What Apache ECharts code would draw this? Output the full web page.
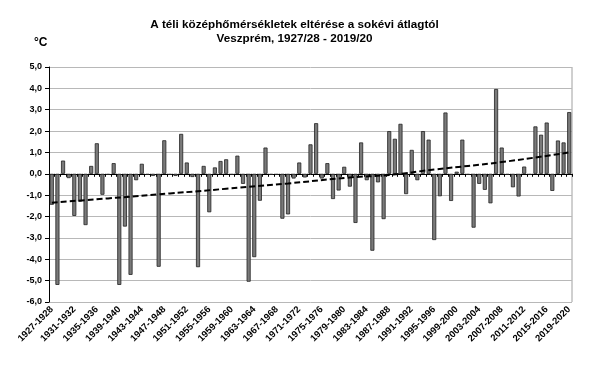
<!DOCTYPE html>
<html>
<head>
<meta charset="utf-8">
<script src="https://cdn.jsdelivr.net/npm/echarts@6/dist/echarts.min.js"></script>
<style>html,body{margin:0;padding:0;background:#fff}#c{width:589px;height:381px}</style>
</head>
<body>
<div id="c"></div>
<script>
// Winters 1927/28 .. 2019/20
var firstYear = 1927;
var lastYear = 2019;
var categories = [];
for (var y = firstYear; y <= lastYear; y++) categories.push(y + '-' + (y + 1));

// deviation from long-term mean (°C)
var deviations = [
  -1.45, -5.2, 0.62, -0.2, -1.97, -1.3, -2.4, 0.37, 1.43, -0.98,
  -0.05, 0.5, -5.2, -2.47, -4.73, -0.3, 0.47, -0.05, -0.1, -4.35,
  1.57, -0.05, -0.1, 1.87, 0.53, -0.15, -4.37, 0.37, -1.8, 0.3,
  0.6, 0.68, -0.05, 0.85, -0.47, -5.05, -3.9, -1.26, 1.23, -0.05,
  -0.05, -2.1, -1.9, -0.22, 0.53, -0.17, 1.38, 2.37, -0.22, 0.5,
  -1.18, -0.78, 0.33, -0.6, -2.3, 1.47, -0.3, -3.6, -0.4, -2.12,
  2.0, 1.64, 2.34, -0.95, 1.12, -0.3, 2.0, 1.6, -3.1, -1.05,
  2.87, -1.27, 0.1, 1.6, -0.05, -2.52, -0.47, -0.75, -1.38, 3.97,
  1.23, -0.05, -0.63, -1.06, 0.34, -0.05, 2.22, 1.83, 2.4, -0.8,
  1.56, 1.47, 2.89
];

// trend line values read at a few winters
var trendCats = ['1927-1928','1937-1938','1948-1949','1958-1959','1969-1970','1980-1981','1987-1988','1995-1996','2007-2008','2019-2020'];
var trendVals = [-1.35, -1.15, -0.92, -0.7, -0.45, -0.17, -0.05, 0.2, 0.55, 1.0];

var yTicks = [-6, -5, -4, -3, -2, -1, 0, 1, 2, 3, 4, 5];

var trendData = trendCats.map(function (c, i) { return [c, trendVals[i]]; });

var FONT = 'Liberation Sans, Arial, sans-serif';
var chart = echarts.init(document.getElementById('c'), null, {renderer: 'canvas'});
chart.setOption({
  animation: false,
  backgroundColor: '#fff',
  title: {
    text: 'A téli középhőmérsékletek eltérése a sokévi átlagtól\nVeszprém, 1927/28 - 2019/20',
    left: 'center',
    top: 13,
    textStyle: {fontFamily: FONT, fontWeight: 'bold', fontSize: 11.7, lineHeight: 14, color: '#000'}
  },
  graphic: [{
    type: 'text', left: 34, top: 37,
    style: {text: '°C', font: 'bold 12px ' + FONT, fill: '#000'}
  }, {
    type: 'line', shape: {x1: 572, y1: 67, x2: 572, y2: 302},
    style: {stroke: '#a0a0a0', lineWidth: 1}
  }],
  grid: {left: 49, right: 17, top: 67, bottom: 79},
  xAxis: [{
    type: 'category',
    data: categories,
    position: 'bottom',
    axisLine: {onZero: true, lineStyle: {color: '#000', width: 1}},
    axisTick: {show: true, interval: 0, length: 3, lineStyle: {color: '#000'}},
    axisLabel: {show: false},
    splitLine: {show: false}
  }, {
    type: 'category',
    data: categories,
    position: 'bottom',
    axisLine: {show: false, onZero: false},
    axisTick: {show: false},
    axisLabel: {
      interval: 3, rotate: 45, margin: 6,
      fontFamily: FONT, fontWeight: 'bold', fontSize: 9.5, color: '#000'
    }
  }],
  yAxis: {
    type: 'value',
    min: yTicks[0], max: yTicks[yTicks.length - 1], interval: 1,
    axisLine: {show: true, lineStyle: {color: '#000', width: 1}},
    axisTick: {show: true, length: 4, lineStyle: {color: '#000'}},
    axisLabel: {
      margin: 7, fontFamily: FONT, fontWeight: 'bold', fontSize: 9, color: '#000',
      formatter: function (v) { return v.toFixed(1).replace('.', ','); }
    },
    splitLine: {show: true, lineStyle: {color: '#b8b8b8', width: 1}}
  },
  series: [{
    type: 'bar',
    xAxisIndex: 0,
    data: deviations,
    barCategoryGap: '28%',
    itemStyle: {color: '#7a7a7a', borderColor: '#222', borderWidth: 0.8},
    z: 2
  }, {
    type: 'line',
    xAxisIndex: 0,
    data: trendData,
    smooth: true,
    symbol: 'none',
    lineStyle: {color: '#000', width: 2, type: [6, 3]},
    z: 3
  }]
});
</script>
</body>
</html>
